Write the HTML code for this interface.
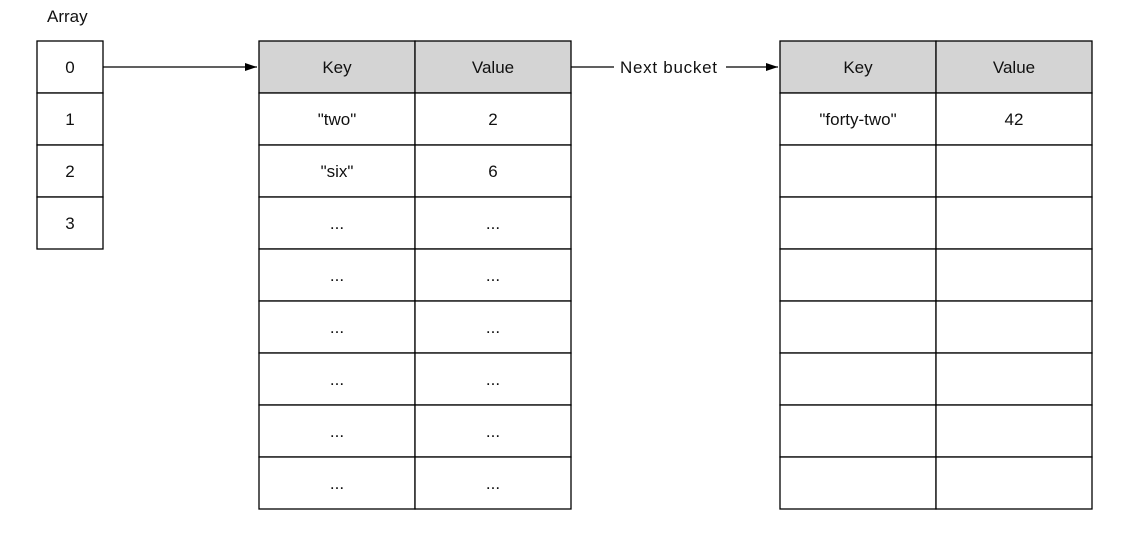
<!DOCTYPE html>
<html><head><meta charset="utf-8"><style>
html,body{margin:0;padding:0;background:#fff;width:1122px;height:538px;overflow:hidden}
svg text{font-family:"Liberation Sans",Arial,sans-serif;font-size:17px;fill:#111}
</style></head><body>
<svg width="1122" height="538" viewBox="0 0 1122 538" xmlns="http://www.w3.org/2000/svg">
<defs><marker id="ah" markerWidth="12" markerHeight="8" refX="12" refY="4" orient="auto" markerUnits="userSpaceOnUse"><path d="M0,0 L12,4 L0,8 Z" fill="#000"/></marker></defs>
<text x="47" y="22">Array</text>
<g id="arr"></g>
<g id="t1"></g>
<g id="t2"></g>
<line x1="103" y1="67" x2="257" y2="67" stroke="#000" stroke-width="1.2" marker-end="url(#ah)"/>
<line x1="571" y1="67" x2="614" y2="67" stroke="#000" stroke-width="1.2"/>
<text x="620" y="73" textLength="97">Next bucket</text>
<line x1="726" y1="67" x2="778" y2="67" stroke="#000" stroke-width="1.2" marker-end="url(#ah)"/>
</svg>
<script>
const arrayIndices=["0","1","2","3"];
const bucket1Keys=['"two"','"six"',"...","...","...","...","...","..."];
const bucket1Vals=["2","6","...","...","...","...","...","..."];
const bucket2Keys=['"forty-two"',"","","","","","",""];
const bucket2Vals=["42","","","","","","",""];
const NS="http://www.w3.org/2000/svg";
const top0=41,rh=52;
function mk(tag,attrs,parent){const e=document.createElementNS(NS,tag);for(const k in attrs)e.setAttribute(k,attrs[k]);parent.appendChild(e);return e;}
function cell(g,x,y,w,h,fill,txt,name){
  const r=mk('rect',{x:x,y:y,width:w,height:h,fill:fill,stroke:'#000','stroke-width':1.3},g);
  
  
  if(txt){const t=mk('text',{x:x+w/2,y:y+h/2+6,'text-anchor':'middle'},g);t.textContent=txt;
  
  }
}
const arr=document.getElementById('arr');
arrayIndices.forEach((v,i)=>cell(arr,37,top0+i*rh,66,rh,'#fff',v,'array-slot-'+v));
function table(id,x,w,keys,vals){
  const g=document.getElementById(id);
  cell(g,x,top0,w,rh,'#d4d4d4','Key','header-key');
  cell(g,x+w,top0,w,rh,'#d4d4d4','Value','header-value');
  keys.forEach((k,i)=>{const y=top0+(i+1)*rh;
    cell(g,x,y,w,rh,'#fff',k,'key-row-'+(i+1));
    cell(g,x+w,y,w,rh,'#fff',vals[i],'value-row-'+(i+1));});
}
table('t1',259,156,bucket1Keys,bucket1Vals);
table('t2',780,156,bucket2Keys,bucket2Vals);
</script>
</body></html>
